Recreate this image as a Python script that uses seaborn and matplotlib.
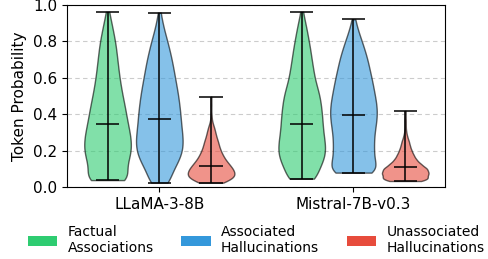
import numpy as np
import pandas as pd
import matplotlib
matplotlib.use("Agg")
import matplotlib.pyplot as plt
from matplotlib.patches import Patch
import seaborn as sns

models = ["LLaMA-3-8B", "Mistral-7B-v0.3"]
categories = ["Factual Associations", "Associated Hallucinations", "Unassociated Hallucinations"]
legend_labels = ["Factual\nAssociations", "Associated\nHallucinations", "Unassociated\nHallucinations"]
colors = ["#2ecc71", "#3498db", "#e74c3c"]

# Distribution of token probabilities (value levels and their frequencies)
llama_fact_vals = [0.038, 0.05, 0.10, 0.15, 0.20, 0.25, 0.30, 0.35, 0.40, 0.45, 0.50,
                   0.55, 0.60, 0.65, 0.70, 0.75, 0.80, 0.85, 0.90, 0.95, 0.962]
llama_fact_counts = [35, 25, 33, 42, 46, 46, 43, 39, 36, 33, 29, 26, 23, 21, 19, 17, 15, 11, 8, 3, 1]

llama_assoc_vals = [0.024, 0.05, 0.10, 0.15, 0.20, 0.25, 0.30, 0.35, 0.40, 0.45, 0.50,
                    0.55, 0.60, 0.65, 0.70, 0.75, 0.80, 0.85, 0.90, 0.95, 0.958]
llama_assoc_counts = [14, 15, 27, 37, 43, 44, 42, 40, 39, 37, 35, 32, 29, 26, 23, 19, 15, 10, 6, 2, 1]

llama_unassoc_vals = [0.024, 0.05, 0.075, 0.10, 0.125, 0.15, 0.175, 0.20, 0.225, 0.25,
                      0.275, 0.30, 0.325, 0.35, 0.375, 0.40, 0.45, 0.496]
llama_unassoc_counts = [25, 43, 45, 41, 34, 27, 22, 18, 15, 13, 10, 8, 6, 3, 1, 1, 1, 1]

mistral_fact_vals = [0.046, 0.10, 0.15, 0.20, 0.25, 0.30, 0.35, 0.40, 0.45, 0.50, 0.55,
                     0.60, 0.65, 0.70, 0.75, 0.80, 0.85, 0.90, 0.95, 0.962]
mistral_fact_counts = [32, 31, 41, 44, 42, 39, 38, 37, 35, 33, 28, 23, 21, 18, 16, 13, 10, 7, 2, 1]

mistral_assoc_vals = [0.079, 0.10, 0.15, 0.20, 0.25, 0.30, 0.35, 0.40, 0.45, 0.50, 0.55,
                      0.60, 0.65, 0.70, 0.75, 0.80, 0.85, 0.90, 0.921]
mistral_assoc_counts = [30, 32, 37, 36, 36, 37, 40, 42, 41, 38, 35, 32, 28, 25, 20, 15, 9, 4, 1]

mistral_unassoc_vals = [0.033, 0.05, 0.075, 0.10, 0.125, 0.15, 0.175, 0.20, 0.225, 0.25,
                        0.275, 0.30, 0.325, 0.35, 0.375, 0.418]
mistral_unassoc_counts = [23, 39, 45, 42, 30, 21, 16, 12, 9, 7, 4, 2, 1, 1, 1, 1]

# Medians shown by the horizontal bars
llama_medians = [0.346, 0.374, 0.114]
mistral_medians = [0.346, 0.397, 0.108]

series = {
    (models[0], categories[0]): (llama_fact_vals, llama_fact_counts),
    (models[0], categories[1]): (llama_assoc_vals, llama_assoc_counts),
    (models[0], categories[2]): (llama_unassoc_vals, llama_unassoc_counts),
    (models[1], categories[0]): (mistral_fact_vals, mistral_fact_counts),
    (models[1], categories[1]): (mistral_assoc_vals, mistral_assoc_counts),
    (models[1], categories[2]): (mistral_unassoc_vals, mistral_unassoc_counts),
}
medians = {models[0]: llama_medians, models[1]: mistral_medians}

rows = []
for (m, c), (vals, cnts) in series.items():
    for v in np.repeat(vals, cnts):
        rows.append((m, c, v))
df = pd.DataFrame(rows, columns=["model", "category", "prob"])

plt.rcParams["font.family"] = ["DejaVu Sans"]
fig = plt.figure(figsize=(4.88, 2.59), dpi=100)
ax = fig.add_axes([0.1367, 0.278, 0.7758, 0.703])
ax.set_axisbelow(True)
ax.yaxis.grid(True, linestyle=(0, (4, 3)), color="#cccccc", linewidth=0.8)

group_width = 0.8
sns.violinplot(data=df, x="model", y="prob", hue="category", order=models,
               hue_order=categories, palette=colors, saturation=1,
               density_norm="width", cut=0, inner=None, width=group_width, gap=0.1,
               bw_method=0.2, linewidth=1.0, linecolor="black", alpha=0.6,
               legend=False, ax=ax)

n = len(categories)
step = group_width / n
cap = step * 0.9 / 4
for gi, m in enumerate(models):
    for hi, c in enumerate(categories):
        vals, cnts = series[(m, c)]
        pos = gi + (hi - (n - 1) / 2) * step
        lo, hi_v = min(vals), max(vals)
        med = medians[m][hi]
        ax.vlines(pos, lo, hi_v, color="black", linewidth=1.1, zorder=3)
        ax.hlines([lo, hi_v, med], pos - cap, pos + cap, color="black", linewidth=1.1, zorder=3)

ax.set_xlim(-0.477, 1.473)
ax.set_ylim(0, 1.0)
ax.set_yticks([0, 0.2, 0.4, 0.6, 0.8, 1.0])
ax.set_xlabel("")
ax.set_ylabel("Token Probability", fontsize=11)
ax.tick_params(axis="both", labelsize=11)

handles = [Patch(facecolor=col, edgecolor="none") for col in colors]
fig.legend(handles, legend_labels, loc="center", ncol=3, frameon=False, fontsize=10,
           bbox_to_anchor=(0.525, 0.073), handlelength=2.1, handletextpad=0.75,
           columnspacing=2.0)

fig.savefig("out.png", dpi=100)
